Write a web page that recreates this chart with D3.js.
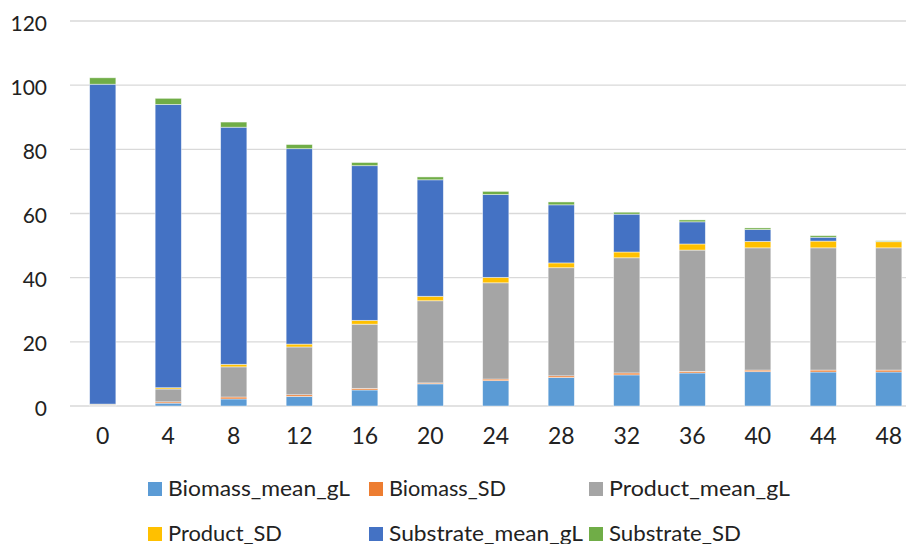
<!DOCTYPE html>
<html>
<head>
<meta charset="utf-8">
<script src="https://cdn.jsdelivr.net/npm/d3@7"></script>
<style>
  body { margin: 0; background: #fff; }
  svg text { font-family: Lato, "Open Sans", sans-serif; fill: #222; }
</style>
</head>
<body>
<svg id="chart" width="907" height="544"></svg>
<script>
// categories (hours)
const hours = [0, 4, 8, 12, 16, 20, 24, 28, 32, 36, 40, 44, 48];

// series values
const biomassMean = [0.2, 0.9, 2.2, 3.0, 5.0, 6.9, 7.9, 8.9, 9.7, 10.3, 10.7, 10.6, 10.6];
const biomassSD = [0.05, 0.4, 0.6, 0.5, 0.5, 0.3, 0.5, 0.5, 0.6, 0.5, 0.5, 0.6, 0.6];
const productMean = [0.3, 4.0, 9.4, 14.9, 20.0, 25.6, 30.0, 33.7, 35.9, 37.8, 38.1, 38.1, 38.1];
const productSD = [0.05, 0.4, 0.8, 0.9, 1.2, 1.4, 1.7, 1.5, 1.8, 1.9, 2.0, 2.1, 1.9];
const substrateMean = [99.7, 88.3, 73.9, 60.9, 48.2, 36.3, 25.8, 18.1, 11.8, 6.9, 3.7, 1.2, 0.1];
const substrateSD = [2.0, 1.9, 1.6, 1.3, 1.0, 0.9, 1.0, 0.9, 0.6, 0.6, 0.5, 0.5, 0.2];

const seriesNames = ["Biomass_mean_gL", "Biomass_SD", "Product_mean_gL", "Product_SD", "Substrate_mean_gL", "Substrate_SD"];
const seriesValues = [biomassMean, biomassSD, productMean, productSD, substrateMean, substrateSD];
const yTicks = [0, 20, 40, 60, 80, 100, 120];

const colors = ["#5B9BD5", "#ED7D31", "#A5A5A5", "#FFC000", "#4472C4", "#70AD47"];

const svg = d3.select("#chart");

const margin = { left: 70, top: 21, bottom: 406 };

// rows for the stack
const rows = hours.map((h, i) => {
  const r = { hour: h };
  seriesNames.forEach((s, j) => { r[s] = seriesValues[j][i]; });
  return r;
});

const xScale = d3.scaleBand()
  .domain(hours)
  .range([margin.left, 921.5])
  .paddingInner(0.6)
  .paddingOuter(0.3);

const yScale = d3.scaleLinear()
  .domain([0, 120])
  .range([margin.bottom, margin.top]);

// gridlines
svg.append("g")
  .selectAll("line")
  .data(yTicks)
  .join("line")
  .attr("x1", margin.left)
  .attr("x2", 906)
  .attr("y1", d => yScale(d))
  .attr("y2", d => yScale(d))
  .attr("stroke", "#d9d9d9")
  .attr("stroke-width", 1.3);

// y axis labels
const yAxis = d3.axisLeft(yScale).tickValues(yTicks).tickSize(0).tickPadding(0);
svg.append("g")
  .attr("transform", "translate(47,0)")
  .call(yAxis)
  .call(g => g.select(".domain").remove())
  .call(g => g.selectAll("text")
    .attr("dy", "0.43em")
    .attr("font-family", "Lato, 'Open Sans', sans-serif")
    .attr("font-size", 21)
    .attr("fill", "#222"));

// stacked bars
const stack = d3.stack().keys(seriesNames);
const stacked = stack(rows);

svg.append("g")
  .selectAll("g")
  .data(stacked)
  .join("g")
  .attr("fill", (d, i) => colors[i])
  .selectAll("rect")
  .data(d => d)
  .join("rect")
  .attr("x", d => xScale(d.data.hour))
  .attr("y", d => yScale(d[1]))
  .attr("width", xScale.bandwidth())
  .attr("height", d => yScale(d[0]) - yScale(d[1]))
  .attr("stroke", "#ffffff")
  .attr("stroke-opacity", 0.6)
  .attr("stroke-width", 0.75);

// x axis labels
const xAxis = d3.axisBottom(xScale).tickSize(0).tickPadding(0);
svg.append("g")
  .attr("transform", "translate(0,444)")
  .call(xAxis)
  .call(g => g.select(".domain").remove())
  .call(g => g.selectAll("text")
    .attr("y", 0)
    .attr("dy", 0)
    .attr("font-family", "Lato, 'Open Sans', sans-serif")
    .attr("font-size", 23)
    .attr("fill", "#222"));

// legend layout (square x, text baseline y, text width)
const legendX = [148, 369, 589, 148, 369, 589];
const legendY = [496, 496, 496, 541, 541, 541];
const legendW = [182, 117, 181, 114, 194, 132];

const legend = svg.append("g")
  .selectAll("g")
  .data(seriesNames)
  .join("g")
  .attr("transform", (d, i) => `translate(${legendX[i]},${legendY[i]})`);

legend.append("rect")
  .attr("x", 0)
  .attr("y", -14)
  .attr("width", 14)
  .attr("height", 14)
  .attr("fill", (d, i) => colors[i]);

legend.append("text")
  .attr("x", 20)
  .attr("y", 0)
  .attr("font-size", 22)
  .attr("textLength", (d, i) => legendW[i])
  .attr("lengthAdjust", "spacingAndGlyphs")
  .text(d => d);
</script>
</body>
</html>
